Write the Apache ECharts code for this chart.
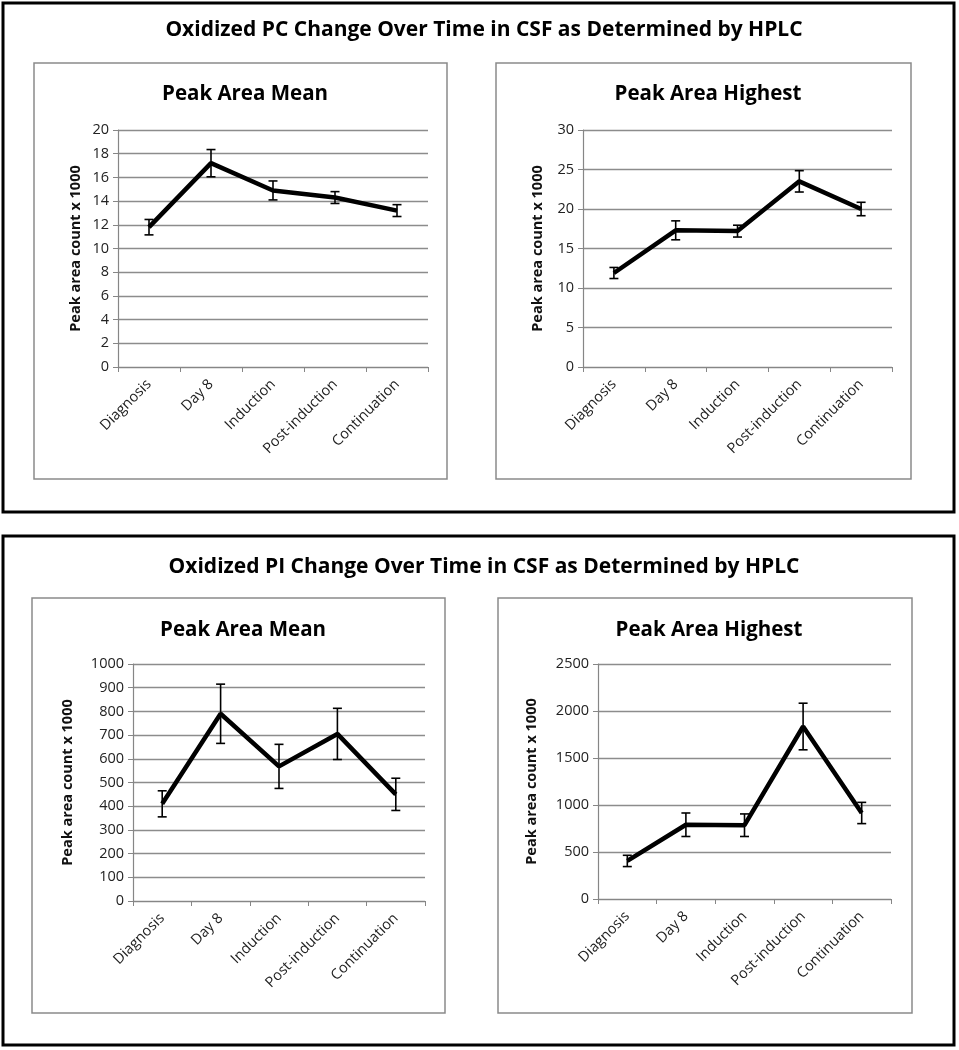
<!DOCTYPE html>
<html>
<head>
<meta charset="utf-8">
<script src="https://cdn.jsdelivr.net/npm/echarts@6/dist/echarts.min.js"></script>
<style>
html,body{margin:0;padding:0;background:#fff;}
#c{width:959px;height:1050px;}
</style>
</head>
<body>
<div id="c"></div>
<script>
const categories = ['Diagnosis', 'Day 8', 'Induction', 'Post-induction', 'Continuation'];

const pcMean = [11.8, 17.2, 14.9, 14.3, 13.2];
const pcMeanErr = [0.65, 1.15, 0.8, 0.5, 0.5];
const pcHigh = [11.9, 17.3, 17.2, 23.5, 20.0];
const pcHighErr = [0.7, 1.2, 0.75, 1.35, 0.85];
const piMean = [410, 790, 568, 705, 450];
const piMeanErr = [55, 125, 93, 108, 68];
const piHigh = [405, 790, 785, 1835, 915];
const piHighErr = [60, 125, 120, 248, 113];

const mainTitles = ['Oxidized PC Change Over Time in CSF as Determined by HPLC', 'Oxidized PI Change Over Time in CSF as Determined by HPLC'];
const subTitles = ['Peak Area Mean', 'Peak Area Highest', 'Peak Area Mean', 'Peak Area Highest'];
const yAxisTitle = 'Peak area count x 1000';

const FONT = '"Open Sans", "Liberation Sans", sans-serif';
const chart = echarts.init(document.getElementById('c'), null, {renderer: 'canvas'});

const panels = [
  {grid: {left: 118, top: 130, width: 310, height: 237}, max: 20, interval: 2, gap: 35, vals: pcMean, err: pcMeanErr},
  {grid: {left: 583, top: 130, width: 309, height: 237}, max: 30, interval: 5, gap: 38, vals: pcHigh, err: pcHighErr},
  {grid: {left: 133, top: 664, width: 292, height: 237}, max: 1000, interval: 100, gap: 58, vals: piMean, err: piMeanErr},
  {grid: {left: 598, top: 664, width: 293, height: 235}, max: 2500, interval: 500, gap: 59, vals: piHigh, err: piHighErr}
];

const grids = [], xAxes = [], yAxes = [], series = [];
panels.forEach((p, i) => {
  grids.push(p.grid);
  xAxes.push({
    type: 'category', gridIndex: i, data: categories, boundaryGap: true,
    axisLine: {lineStyle: {color: '#868686', width: 1.2}},
    axisTick: {show: true, length: 5, alignWithLabel: false, lineStyle: {color: '#868686'}},
    axisLabel: {rotate: 45, fontFamily: FONT, fontSize: 14.5, color: '#222', margin: 15, interval: 0}
  });
  yAxes.push({
    type: 'value', gridIndex: i, min: 0, max: p.max, interval: p.interval,
    name: yAxisTitle, nameLocation: 'middle', nameRotate: 90, nameGap: p.gap,
    nameTextStyle: {fontFamily: FONT, fontWeight: 'bold', fontSize: 14.5, color: '#111'},
    axisLine: {show: true, lineStyle: {color: '#868686', width: 1.2}},
    axisTick: {show: true, length: 5, lineStyle: {color: '#868686'}},
    axisLabel: {fontFamily: FONT, fontSize: 14.5, color: '#222', margin: 9, formatter: v => String(v)},
    splitLine: {show: true, lineStyle: {color: '#8c8c8c', width: 1.3}}
  });
  series.push({
    type: 'line', xAxisIndex: i, yAxisIndex: i, data: p.vals,
    showSymbol: false, symbol: 'none', animation: false,
    lineStyle: {color: '#000', width: 4.5}, z: 3
  });
  const errData = p.vals.map((v, k) => [k, v - p.err[k], v + p.err[k]]);
  series.push({
    type: 'custom', xAxisIndex: i, yAxisIndex: i, data: errData, animation: false, z: 4,
    renderItem: function (params, api) {
      const x = api.value(0);
      const lo = api.coord([x, api.value(1)]);
      const hi = api.coord([x, api.value(2)]);
      const cap = 4.5;
      const st = {stroke: '#000', lineWidth: 1.6};
      return {type: 'group', children: [
        {type: 'line', shape: {x1: lo[0], y1: lo[1], x2: hi[0], y2: hi[1]}, style: st},
        {type: 'line', shape: {x1: lo[0] - cap, y1: lo[1], x2: lo[0] + cap, y2: lo[1]}, style: st},
        {type: 'line', shape: {x1: hi[0] - cap, y1: hi[1], x2: hi[0] + cap, y2: hi[1]}, style: st}
      ]};
    },
    encode: {x: 0, y: [1, 2]}
  });
});

const titleStyle = {fontFamily: FONT, fontWeight: 'bold', color: '#000'};
const titles = [
  {text: mainTitles[0], left: 479, top: 15, textAlign: 'center', textStyle: Object.assign({fontSize: 21}, titleStyle)},
  {text: mainTitles[1], left: 479, top: 552, textAlign: 'center', textStyle: Object.assign({fontSize: 21}, titleStyle)},
  {text: subTitles[0], left: 240, top: 79, textAlign: 'center', textStyle: Object.assign({fontSize: 20.5}, titleStyle)},
  {text: subTitles[1], left: 703, top: 79, textAlign: 'center', textStyle: Object.assign({fontSize: 20.5}, titleStyle)},
  {text: subTitles[2], left: 238, top: 615, textAlign: 'center', textStyle: Object.assign({fontSize: 20.5}, titleStyle)},
  {text: subTitles[3], left: 704, top: 615, textAlign: 'center', textStyle: Object.assign({fontSize: 20.5}, titleStyle)}
];

const boxStyle = {fill: 'none', stroke: '#000', lineWidth: 3};
const innerStyle = {fill: 'none', stroke: '#8a8a8a', lineWidth: 1.5};
const graphics = [
  {type: 'rect', shape: {x: 3, y: 3, width: 951, height: 509}, style: boxStyle, silent: true, z: -1},
  {type: 'rect', shape: {x: 3, y: 536, width: 951, height: 509}, style: boxStyle, silent: true, z: -1},
  {type: 'rect', shape: {x: 34, y: 63, width: 413, height: 416}, style: innerStyle, silent: true, z: -1},
  {type: 'rect', shape: {x: 496, y: 63, width: 415, height: 416}, style: innerStyle, silent: true, z: -1},
  {type: 'rect', shape: {x: 32, y: 598, width: 413, height: 415}, style: innerStyle, silent: true, z: -1},
  {type: 'rect', shape: {x: 498, y: 598, width: 414, height: 415}, style: innerStyle, silent: true, z: -1}
];

chart.setOption({
  animation: false,
  backgroundColor: '#fff',
  title: titles,
  grid: grids,
  xAxis: xAxes,
  yAxis: yAxes,
  series: series,
  graphic: graphics
});
</script>
</body>
</html>
